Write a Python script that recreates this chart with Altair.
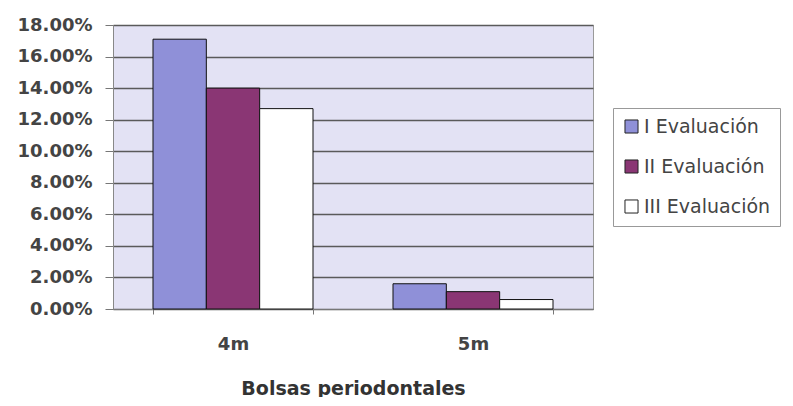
import altair as alt
import pandas as pd

categories = ["4m", "5m"]
series = ["I Evaluación", "II Evaluación", "III Evaluación"]
values_4m = [0.171, 0.140, 0.127]
values_5m = [0.016, 0.011, 0.006]
colors = ["#8f90d8", "#8a3674", "#ffffff"]

rows = []
for cat, vals in zip(categories, [values_4m, values_5m]):
    for s, v in zip(series, vals):
        rows.append({"cat": cat, "serie": s, "valor": v})
df = pd.DataFrame(rows)

font = "DejaVu Sans"
txt = "#444444"

chart = alt.Chart(df).mark_bar(stroke="#111111", strokeWidth=1).encode(
    x=alt.X("cat:N", sort=categories,
            scale=alt.Scale(paddingInner=1/3, paddingOuter=1/6),
            axis=alt.Axis(title="Bolsas periodontales", labelAngle=0, labelFontSize=18,
                          labelFontWeight="bold", labelPadding=21,
                          titleFontSize=19, titleFontWeight="bold",
                          titlePadding=26, tickBand="extent", tickSize=5,
                          domainColor="#777777", tickColor="#777777",
                          labelColor=txt, titleColor="#333333", labelFont=font,
                          titleFont=font)),
    xOffset=alt.XOffset("serie:N", sort=series),
    y=alt.Y("valor:Q", scale=alt.Scale(domain=[0, 0.18], nice=False),
            axis=alt.Axis(title=None, format=".2%", values=[i / 100 for i in range(0, 19, 2)],
                          labelFontSize=18, labelFontWeight="bold", labelColor=txt,
                          labelFont=font, tickSize=8, labelPadding=13, tickColor="#777777",
                          domainColor="#888888", gridColor="#5a5a5a", gridWidth=1.3)),
    color=alt.Color("serie:N", sort=series,
                    scale=alt.Scale(domain=series, range=colors),
                    legend=alt.Legend(title=None, orient="none", legendX=500, legendY=83,
                                      symbolType="square", symbolSize=170,
                                      symbolStrokeColor="#222222", symbolStrokeWidth=1,
                                      labelFontSize=19, labelFont=font,
                                      labelColor=txt, rowPadding=20, labelOffset=3,
                                      strokeColor="#999999", padding=9,
                                      symbolOpacity=1)),
).properties(
    width=480, height=284,
    autosize=alt.AutoSizeParams(type="none"),
    padding={"left": 105, "top": 17, "right": 188, "bottom": 88},
).configure_view(
    fill="#e3e2f4", stroke="#9a9a9a", strokeWidth=1
)

chart.save("out.html", embed_options={"renderer": "svg", "actions": False})
